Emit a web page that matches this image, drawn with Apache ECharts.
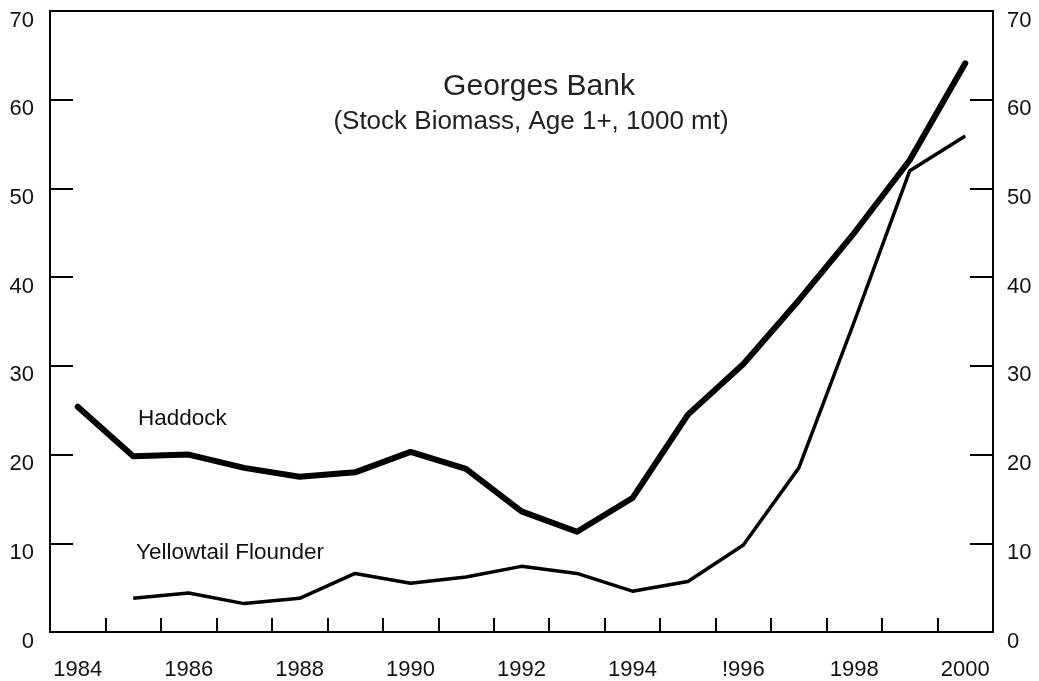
<!DOCTYPE html>
<html>
<head>
<meta charset="utf-8">
<script src="https://cdn.jsdelivr.net/npm/echarts@6/dist/echarts.min.js"></script>
<style>
html,body{margin:0;padding:0;background:#fff;}
#chart{width:1039px;height:681px;}
</style>
</head>
<body>
<div id="chart"></div>
<script>
const years = ['1984','1985','1986','1987','1988','1989','1990','1991','1992','1993','1994','1995','1996','1997','1998','1999','2000'];
const tickLabels = ['1984','','1986','','1988','','1990','','1992','','1994','','!996','','1998','','2000'];
const haddock = [25.4, 19.8, 20.0, 18.5, 17.5, 18.0, 20.3, 18.4, 13.6, 11.3, 15.1, 24.5, 30.2, 37.4, 45.0, 53.2, 64.1];
const yellowtail = [null, 3.8, 4.4, 3.2, 3.8, 6.6, 5.5, 6.2, 7.4, 6.6, 4.6, 5.7, 9.8, 18.5, 35.0, 52.0, 55.9];
const titleText = 'Georges Bank';
const subtitleText = '(Stock Biomass, Age 1+, 1000 mt)';
const seriesNames = ['Haddock', 'Yellowtail Flounder'];

const FONT = "'Liberation Sans', Arial, Helvetica, sans-serif";
const chart = echarts.init(document.getElementById('chart'));
const yAxisCommon = {
  type: 'value', min: 0, max: 70, interval: 10,
  splitLine: {show: false},
  axisLine: {show: true, lineStyle: {color: '#000', width: 2}},
  axisTick: {show: true, inside: true, length: 23, lineStyle: {color: '#000', width: 2}},
  axisLabel: {color: '#111', fontSize: 22, fontFamily: FONT, verticalAlign: 'top', lineHeight: 19}
};
chart.setOption({
  animation: false,
  grid: {left: 50, right: 46, top: 11, bottom: 49, show: true, borderColor: '#000', borderWidth: 2, backgroundColor: 'transparent'},
  xAxis: {
    type: 'category', data: years, boundaryGap: true,
    axisLine: {lineStyle: {color: '#000', width: 2}},
    axisTick: {show: true, inside: true, length: 14, interval: 0, lineStyle: {color: '#000', width: 2}},
    axisLabel: {interval: 0, margin: 27, color: '#111', fontSize: 22, fontFamily: FONT,
      formatter: (v, i) => tickLabels[i]}
  },
  yAxis: [
    Object.assign({}, yAxisCommon, {position: 'left', axisLabel: Object.assign({}, yAxisCommon.axisLabel, {margin: 16})}),
    Object.assign({}, yAxisCommon, {position: 'right', axisLabel: Object.assign({}, yAxisCommon.axisLabel, {margin: 14})})
  ],
  series: [
    {name: seriesNames[0], type: 'line', data: haddock, symbol: 'none', lineStyle: {color: '#000', width: 6, cap: 'round', join: 'round'}},
    {name: seriesNames[1], type: 'line', data: yellowtail, symbol: 'none', lineStyle: {color: '#000', width: 3.5, join: 'round'}}
  ],
  graphic: [
    {type: 'text', x: 539, y: 87, style: {text: titleText, font: '30px ' + FONT, fill: '#222', align: 'center', verticalAlign: 'middle'}},
    {type: 'text', x: 531, y: 122, style: {text: subtitleText, font: '26px ' + FONT, fill: '#222', align: 'center', verticalAlign: 'middle'}},
    {type: 'text', x: 138, y: 419, style: {text: seriesNames[0], font: '22.5px ' + FONT, fill: '#111', align: 'left', verticalAlign: 'middle'}},
    {type: 'text', x: 136, y: 553, style: {text: seriesNames[1], font: '22.5px ' + FONT, fill: '#111', align: 'left', verticalAlign: 'middle'}}
  ]
});
</script>
</body>
</html>
